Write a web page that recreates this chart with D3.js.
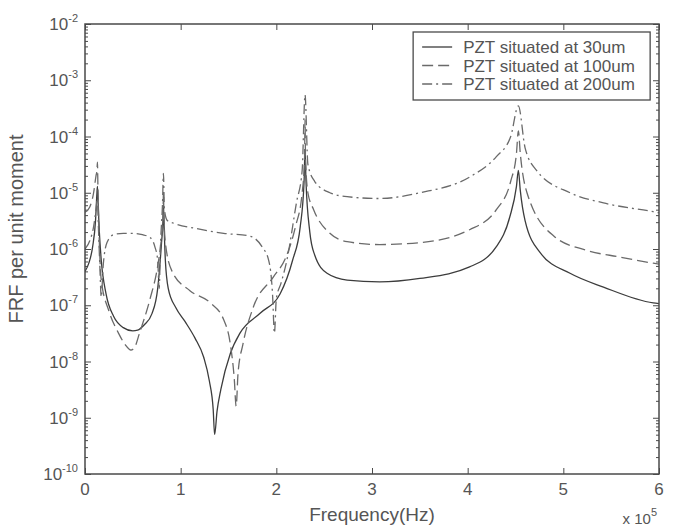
<!DOCTYPE html>
<html>
<head>
<meta charset="utf-8">
<script src="https://cdn.jsdelivr.net/npm/d3@7"></script>
<style>
  body { margin: 0; background: #fff; }
  text { font-family: "Liberation Sans", Arial, sans-serif; fill: #555; }
</style>
</head>
<body>
<div id="chart"></div>
<script>
// frequency in units of 1e5 Hz, FRF per unit moment
var freq30 = [0, 0.04, 0.08, 0.11, 0.125, 0.13, 0.135, 0.15, 0.17, 0.22, 0.3, 0.4, 0.5, 0.55, 0.62, 0.7, 0.76, 0.8, 0.815, 0.82, 0.825, 0.84, 0.87, 0.95, 1.05, 1.15, 1.24, 1.3, 1.34, 1.355, 1.38, 1.42, 1.52, 1.62, 1.83, 2.04, 2.17, 2.25, 2.29, 2.3, 2.31, 2.35, 2.4, 2.53, 2.74, 3.08, 3.5, 4.02, 4.3, 4.44, 4.51, 4.53, 4.55, 4.6, 4.76, 5.07, 5.42, 5.94, 6.0];
var frf30 = [4.0e-7, 5.6e-7, 1.1e-6, 3.2e-6, 1.0e-5, 1.3e-5, 7.9e-6, 2.0e-6, 6.3e-7, 1.6e-7, 6.3e-8, 4.0e-8, 3.5e-8, 3.6e-8, 4.5e-8, 7.1e-8, 2.0e-7, 1.3e-6, 3.2e-6, 6.3e-6, 3.2e-6, 6.3e-7, 2.0e-7, 9.0e-8, 5.0e-8, 2.6e-8, 1.2e-8, 4.5e-9, 1.4e-9, 5.0e-10, 1.3e-9, 3.2e-9, 1.4e-8, 3.2e-8, 7.2e-8, 1.6e-7, 6.3e-7, 2.5e-6, 1.6e-5, 5.6e-5, 1.6e-5, 2.0e-6, 7.9e-7, 3.7e-7, 2.8e-7, 2.6e-7, 3.0e-7, 4.8e-7, 1.1e-6, 3.7e-6, 1.3e-5, 2.5e-5, 1.1e-5, 3.2e-6, 8.5e-7, 3.7e-7, 2.1e-7, 1.1e-7, 1.07e-7];

var freq100 = [0, 0.05, 0.09, 0.115, 0.125, 0.13, 0.135, 0.145, 0.17, 0.25, 0.35, 0.42, 0.48, 0.52, 0.57, 0.68, 0.76, 0.8, 0.815, 0.82, 0.825, 0.84, 0.91, 1.1, 1.31, 1.45, 1.52, 1.56, 1.58, 1.6, 1.65, 1.76, 1.97, 2.1, 2.2, 2.27, 2.295, 2.3, 2.305, 2.33, 2.39, 2.56, 2.74, 3.08, 3.5, 4.02, 4.3, 4.45, 4.51, 4.53, 4.55, 4.62, 4.9, 5.24, 5.59, 5.94, 6.0];
var frf100 = [4.5e-6, 5.6e-6, 1.0e-5, 2.0e-5, 2.5e-5, 3.5e-5, 1.3e-5, 2.5e-6, 2.8e-7, 7.9e-8, 3.2e-8, 2.0e-8, 1.6e-8, 1.8e-8, 3.2e-8, 1.3e-7, 5.0e-7, 1.6e-6, 3.2e-6, 1.0e-5, 4.0e-6, 1.3e-6, 4.0e-7, 1.8e-7, 1.1e-7, 5.5e-8, 2.0e-8, 5.0e-9, 1.6e-9, 6.3e-9, 2.0e-8, 9.3e-8, 3.2e-7, 7.1e-7, 2.5e-6, 1.0e-5, 4.0e-5, 2.0e-4, 4.0e-5, 1.0e-5, 5.0e-6, 1.9e-6, 1.35e-6, 1.2e-6, 1.3e-6, 2.2e-6, 5.0e-6, 1.6e-5, 5.0e-5, 1.26e-4, 5.0e-5, 1.0e-5, 1.7e-6, 9.5e-7, 7.2e-7, 5.6e-7, 5.4e-7];

var freq200 = [0, 0.05, 0.09, 0.115, 0.13, 0.14, 0.155, 0.17, 0.19, 0.23, 0.3, 0.4, 0.5, 0.6, 0.68, 0.73, 0.76, 0.775, 0.79, 0.81, 0.82, 0.83, 0.86, 0.92, 1.17, 1.45, 1.72, 1.85, 1.92, 1.96, 1.98, 2.0, 2.05, 2.11, 2.21, 2.27, 2.3, 2.33, 2.4, 2.56, 2.74, 3.08, 3.5, 4.02, 4.3, 4.45, 4.53, 4.6, 4.72, 5.07, 5.42, 5.94, 6.0];
var frf200 = [1.0e-6, 1.4e-6, 2.5e-6, 5.0e-6, 7.9e-6, 2.5e-6, 5.0e-7, 1.4e-7, 5.0e-7, 1.3e-6, 1.8e-6, 1.9e-6, 1.9e-6, 1.8e-6, 1.6e-6, 1.1e-6, 6.3e-7, 2.0e-7, 1.3e-6, 6.3e-6, 2.2e-5, 5.0e-6, 3.2e-6, 2.9e-6, 2.3e-6, 1.9e-6, 1.7e-6, 1.1e-6, 6.3e-7, 1.6e-7, 3.2e-8, 1.3e-7, 2.5e-7, 6.3e-7, 6.6e-6, 2.5e-5, 5.5e-4, 3.2e-5, 1.6e-5, 1.0e-5, 8.5e-6, 7.9e-6, 1.0e-5, 1.9e-5, 4.4e-5, 1.0e-4, 3.5e-4, 6.3e-5, 2.5e-5, 1.0e-5, 6.6e-6, 4.6e-6, 4.4e-6];

var seriesNames = ["PZT situated at 30um", "PZT situated at 100um", "PZT situated at 200um"];
var xTickValues = [0, 1, 2, 3, 4, 5, 6];
var yExponents = [-10, -9, -8, -7, -6, -5, -4, -3, -2];

// define svg area
var svgWidth = 674;
var svgHeight = 529;
var margin = { top: 24, right: 15, bottom: 55, left: 85 };
var chartWidth = svgWidth - margin.left - margin.right;
var chartHeight = svgHeight - margin.top - margin.bottom;

var svg = d3.select("#chart").append("svg")
  .attr("width", svgWidth)
  .attr("height", svgHeight);

var chartGroup = svg.append("g")
  .attr("transform", `translate(${margin.left}, ${margin.top})`);

var x = d3.scaleLinear().domain([0, 6]).range([0, chartWidth]);
var y = d3.scaleLog().domain([1e-10, 1e-2]).range([chartHeight, 0]);

var axisColor = "#4a4a4a";

// log ticks: majors at decades, minors in between (all inward, both sides)
var allY = y.ticks();
var majorY = yExponents.map(e => Math.pow(10, e));
var minorY = allY.filter(v => majorY.every(m => Math.abs(v / m - 1) > 1e-6));

function styleAxis(g) {
  g.select(".domain").remove();
  g.selectAll("line").attr("stroke", axisColor).attr("stroke-width", 1);
  g.selectAll("text").remove();
}

chartGroup.append("g").call(d3.axisLeft(y).tickValues(minorY).tickSize(-3)).call(styleAxis);
chartGroup.append("g").call(d3.axisLeft(y).tickValues(majorY).tickSize(-6)).call(styleAxis);
chartGroup.append("g").attr("transform", `translate(${chartWidth},0)`)
  .call(d3.axisRight(y).tickValues(minorY).tickSize(-3)).call(styleAxis);
chartGroup.append("g").attr("transform", `translate(${chartWidth},0)`)
  .call(d3.axisRight(y).tickValues(majorY).tickSize(-6)).call(styleAxis);
chartGroup.append("g").attr("transform", `translate(0,${chartHeight})`)
  .call(d3.axisBottom(x).tickValues(xTickValues).tickSize(-6)).call(styleAxis);
chartGroup.append("g")
  .call(d3.axisTop(x).tickValues(xTickValues).tickSize(-6)).call(styleAxis);

// y tick labels 10^k
var yLabels = chartGroup.selectAll(".ylab")
  .data(yExponents)
  .enter()
  .append("text")
  .attr("class", "ylab")
  .attr("x", -7)
  .attr("y", d => y(Math.pow(10, d)) + 6)
  .attr("text-anchor", "end")
  .attr("font-size", 17);
yLabels.append("tspan").text("10");
yLabels.append("tspan").attr("dy", -8).attr("font-size", 11).text(d => "-" + Math.abs(d));

// x tick labels
chartGroup.selectAll(".xlab")
  .data(xTickValues)
  .enter()
  .append("text")
  .attr("class", "xlab")
  .attr("x", d => x(d))
  .attr("y", chartHeight + 21)
  .attr("text-anchor", "middle")
  .attr("font-size", 17)
  .text(d => d);

// axis titles
chartGroup.append("text")
  .attr("x", chartWidth / 2)
  .attr("y", chartHeight + 47)
  .attr("text-anchor", "middle")
  .attr("font-size", 19)
  .text("Frequency(Hz)");

var expLabel = chartGroup.append("text")
  .attr("x", chartWidth - 2)
  .attr("y", chartHeight + 50)
  .attr("text-anchor", "end")
  .attr("font-size", 15);
expLabel.append("tspan").text("x 10");
expLabel.append("tspan").attr("dy", -8).attr("font-size", 11).text("5");

chartGroup.append("text")
  .attr("transform", `translate(${-62}, ${chartHeight / 2 - 20}) rotate(-90)`)
  .attr("text-anchor", "middle")
  .attr("font-size", 20)
  .text("FRF per unit moment");

// curves
chartGroup.append("clipPath").attr("id", "plotClip")
  .append("rect").attr("width", chartWidth).attr("height", chartHeight);

var series = [
  { freq: freq30, frf: frf30, dash: null, color: "#3c3c3c" },
  { freq: freq100, frf: frf100, dash: "11,5", color: "#6a6a6a" },
  { freq: freq200, frf: frf200, dash: "10,4,2,4", color: "#6a6a6a" }
];

var lineGen = d3.line()
  .x(d => x(d[0]))
  .y(d => y(d[1]))
  .curve(d3.curveMonotoneX);

var plotGroup = chartGroup.append("g").attr("clip-path", "url(#plotClip)");
series.forEach(function(s) {
  plotGroup.append("path")
    .datum(d3.zip(s.freq, s.frf))
    .attr("fill", "none")
    .attr("stroke", s.color)
    .attr("stroke-width", 1.3)
    .attr("stroke-dasharray", s.dash)
    .attr("d", lineGen);
});

// frame
chartGroup.append("rect")
  .attr("width", chartWidth)
  .attr("height", chartHeight)
  .attr("fill", "none")
  .attr("stroke", axisColor)
  .attr("stroke-width", 1.5);

// legend
var legend = chartGroup.append("g").attr("transform", `translate(${x(3.43)}, 8)`);
legend.append("rect")
  .attr("width", 237)
  .attr("height", 68)
  .attr("fill", "#fff")
  .attr("stroke", axisColor)
  .attr("stroke-width", 1.3);

var rows = legend.selectAll(".row")
  .data(series)
  .enter()
  .append("g")
  .attr("transform", (d, i) => `translate(0, ${20 + i * 18.5})`);
rows.append("line")
  .attr("x1", 9).attr("x2", 39)
  .attr("y1", -5).attr("y2", -5)
  .attr("stroke", d => d.color)
  .attr("stroke-width", 1.3)
  .attr("stroke-dasharray", d => d.dash);
rows.append("text")
  .attr("x", 50)
  .attr("y", 1)
  .attr("font-size", 17)
  .text((d, i) => seriesNames[i]);
</script>
</body>
</html>
